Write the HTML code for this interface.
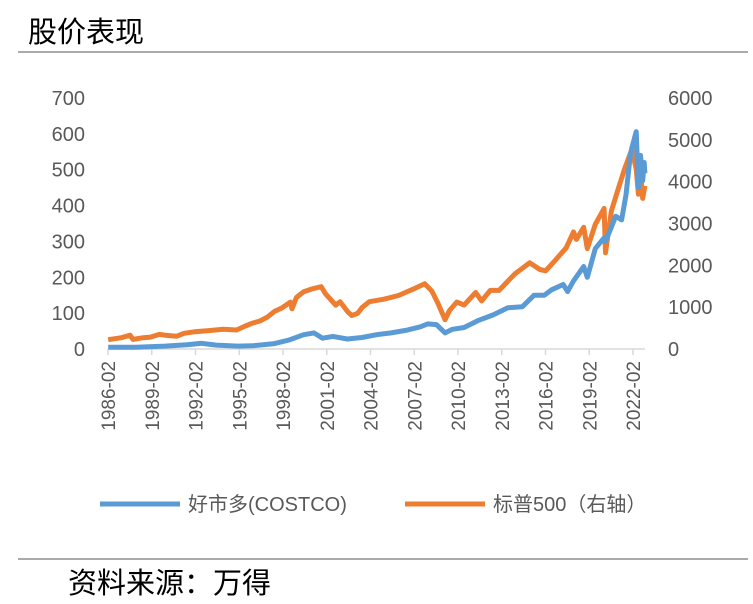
<!DOCTYPE html>
<html><head><meta charset="utf-8"><style>
body{margin:0;background:#fff;width:753px;height:604px;overflow:hidden;font-family:"Liberation Sans","Noto Sans CJK SC",sans-serif}
</style></head><body>
<svg width="753" height="604" style="position:absolute;left:0;top:0">
<text x="28" y="42" font-size="29" fill="#000" font-family="Liberation Sans, Noto Sans CJK SC, sans-serif">股价表现</text>
<line x1="18" y1="52" x2="748" y2="52" stroke="#555" stroke-width="1"/>
<line x1="18" y1="559" x2="748" y2="559" stroke="#555" stroke-width="1"/>
<text x="68" y="593" font-size="29" fill="#000">资料来源：万得</text>
<g id="plot"></g>
<g>
<line x1="100" y1="504" x2="180" y2="504" stroke="#5B9BD5" stroke-width="5"/>
<text x="188" y="511" font-size="20" fill="#595959">好市多(COSTCO)</text>
<line x1="405" y1="504" x2="485" y2="504" stroke="#ED7D31" stroke-width="5"/>
<text x="493" y="511" font-size="20" fill="#595959">标普500（右轴）</text>
</g>
</svg>
<script>
const costcoT=[1986.1,1988,1990,1991.5,1992.5,1993.5,1995,1996,1997.5,1998.5,1999.5,2000.2,2000.8,2001.5,2002.5,2003.5,2004.5,2005.5,2006.5,2007.5,2008.0,2008.6,2009.2,2009.7,2010.5,2011.5,2012.5,2013.5,2014.5,2015.3,2016.0,2016.5,2017.3,2017.6,2018.0,2018.7,2018.95,2019.5,2020.1,2020.2,2020.6,2020.9,2021.3,2021.6,2021.9,2022.0,2022.3,2022.45,2022.6,2022.75,2022.85,2022.9];
const costcoV=[5,5,8,12,16,11,8,9,15,25,40,45,30,35,28,32,40,45,52,62,70,68,45,55,60,80,95,115,118,150,150,165,180,160,190,230,200,280,310,300,340,370,360,430,540,560,606,450,540,470,520,490];
const spxT=[1986.1,1986.5,1987.0,1987.6,1987.8,1988.5,1989.0,1989.6,1990.0,1990.8,1991.3,1992.0,1993.0,1994.0,1994.9,1995.5,1996.0,1996.5,1997.0,1997.5,1998.0,1998.6,1998.7,1999.0,1999.5,2000.0,2000.7,2001.0,2001.7,2002.0,2002.5,2002.8,2003.2,2003.5,2004.0,2005.0,2006.0,2007.0,2007.8,2008.3,2008.7,2009.2,2009.5,2010.0,2010.5,2011.3,2011.7,2012.3,2012.9,2013.5,2014.0,2015.0,2015.7,2016.1,2016.8,2017.5,2018.0,2018.2,2018.7,2018.95,2019.5,2020.1,2020.2,2020.6,2021.0,2021.5,2022.0,2022.3,2022.45,2022.6,2022.75,2022.9];
const spxV=[225,245,270,330,230,270,285,350,330,305,375,410,440,470,455,550,620,670,760,900,980,1120,960,1230,1370,1430,1490,1320,1050,1130,900,800,850,990,1130,1190,1280,1430,1560,1380,1100,700,920,1120,1050,1350,1150,1400,1400,1620,1800,2060,1900,1870,2140,2420,2800,2620,2910,2400,2980,3360,2300,3300,3750,4300,4770,4300,3700,4250,3600,3900];
const leftTicks=[0,100,200,300,400,500,600,700];
const rightTicks=[0,1000,2000,3000,4000,5000,6000];
const xTickLabels=['1986-02','1989-02','1992-02','1995-02','1998-02','2001-02','2004-02','2007-02','2010-02','2013-02','2016-02','2019-02','2022-02'];

const NS='http://www.w3.org/2000/svg';
const g=document.getElementById('plot');
const x0=108,x1=633,yBase=349,yTop=98;
const xs=t=>x0+(t-1986.083)/36*(x1-x0);
const yl=v=>yBase-v/700*(yBase-yTop);
const yr=v=>yBase-v/6000*(yBase-yTop);
function mk(tag,attrs){const e=document.createElementNS(NS,tag);for(const k in attrs)e.setAttribute(k,attrs[k]);g.appendChild(e);return e;}
leftTicks.forEach(v=>{const t=mk('text',{x:85,y:yl(v)+7,'text-anchor':'end','font-size':20,fill:'#595959'});t.textContent=v;

});
rightTicks.forEach(v=>{const t=mk('text',{x:668,y:yr(v)+7,'font-size':20,fill:'#595959'});t.textContent=v;

});
const ax=mk('line',{x1:x0,y1:yBase,x2:645,y2:yBase,stroke:'#d9d9d9','stroke-width':1.5});


xTickLabels.forEach((s,i)=>{const yr0=1986.083+i*3;const x=xs(yr0);
const tk=mk('line',{x1:x,y1:yBase,x2:x,y2:yBase+6,stroke:'#d9d9d9','stroke-width':1.5});


const t=mk('text',{x:0,y:0,'text-anchor':'end','font-size':19,fill:'#595959',transform:`translate(${x+7},${yBase+12}) rotate(-90)`});t.textContent=s;

});
function jag(T,V,f){let d='';T.forEach((t,i)=>{d+=(i?'L':'M')+xs(t).toFixed(1)+','+f(V[i]).toFixed(1);});return d;}
const ps=mk('path',{d:jag(spxT,spxV,yr),fill:'none',stroke:'#ED7D31','stroke-width':5,'stroke-linejoin':'round'});


const pc=mk('path',{d:jag(costcoT,costcoV,yl),fill:'none',stroke:'#5B9BD5','stroke-width':5,'stroke-linejoin':'round'});


</script>
</body></html>
